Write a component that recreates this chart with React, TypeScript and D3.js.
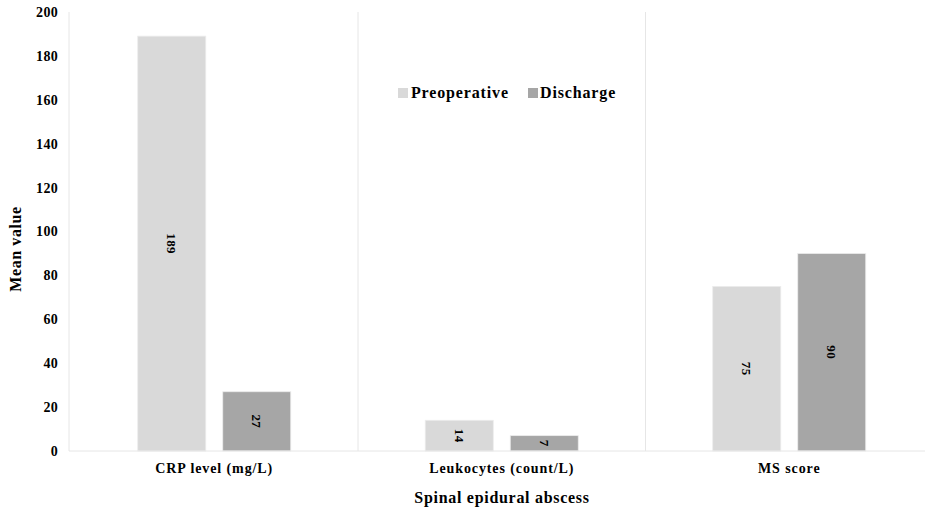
import React from "react";
import * as d3 from "d3";

const categories = ["CRP level (mg/L)", "Leukocytes (count/L)", "MS score"];
const seriesNames = ["Preoperative", "Discharge"];
const preoperative = [189, 14, 75];
const discharge = [27, 7, 90];
const yTicks = [0, 20, 40, 60, 80, 100, 120, 140, 160, 180, 200];

const colors: Record<string, string> = { Preoperative: "#d9d9d9", Discharge: "#a6a6a6" };
const FONT = "'Liberation Serif', 'Times New Roman', serif";

export default function App() {
  const width = 925;
  const height = 514;
  const axisX = 69;
  const left = 70.5;
  const top = 12;
  const bottom = 451;
  const right = 933;

  const x = d3.scaleBand<string>().domain(categories).range([left, right]).padding(0);
  const inner = d3
    .scaleBand<string>()
    .domain(seriesNames)
    .range([x.bandwidth() / 2 - 76.5, x.bandwidth() / 2 + 76.5])
    .paddingInner(0.2)
    .paddingOuter(0);
  const y = d3.scaleLinear().domain([0, 200]).range([bottom, top]);

  const rows = categories.map((c, i) => ({
    category: c,
    values: [
      { series: "Preoperative", value: preoperative[i] },
      { series: "Discharge", value: discharge[i] },
    ],
  }));

  return (
    <svg width={width} height={height} style={{ position: "absolute", left: 0, top: 0, background: "#fff" }}>
      <rect x={0} y={0} width={width} height={height} fill="#fff" />
      {/* category separators */}
      {categories.slice(1).map((c) => (
        <line key={c} x1={x(c)!} x2={x(c)!} y1={top} y2={bottom} stroke="#e6e6e6" strokeWidth={1} />
      ))}
      {/* y axis line */}
      <line x1={axisX} x2={axisX} y1={top} y2={bottom} stroke="#e6e6e6" strokeWidth={1} />
      {/* y ticks */}
      {yTicks.map((t) => (
        <text
          key={t}
          x={58}
          y={y(t)}
          dy="0.35em"
          textAnchor="end"
          fontFamily={FONT}
          fontWeight="bold"
          fontSize={14}
          letterSpacing={0.3}
          fill="#000"
        >
          {t}
        </text>
      ))}
      {/* bars */}
      {rows.map((r) => (
        <g key={r.category} transform={`translate(${x(r.category)},0)`}>
          {r.values.map((v) => {
            const bx = inner(v.series)!;
            const bw = inner.bandwidth();
            const by = y(v.value);
            return (
              <g key={v.series}>
                <rect
                  x={bx}
                  y={by}
                  width={bw}
                  height={bottom - by}
                  fill={colors[v.series]}
                  stroke="#ececec"
                  strokeWidth={0.8}
                />
                <text
                  transform={`translate(${bx + bw / 2},${(by + bottom) / 2}) rotate(90)`}
                  textAnchor="middle"
                  dy="0.35em"
                  fontFamily={FONT}
                  fontWeight="bold"
                  fontSize={13}
                  letterSpacing={0.4}
                  fill="#000"
                >
                  {v.value}
                </text>
              </g>
            );
          })}
        </g>
      ))}
      {/* x axis baseline */}
      <line x1={axisX} x2={width} y1={bottom} y2={bottom} stroke="#e6e6e6" strokeWidth={1} />
      {/* category labels */}
      {categories.map((c) => (
        <text
          key={c}
          x={x(c)! + x.bandwidth() / 2}
          y={473}
          textAnchor="middle"
          fontFamily={FONT}
          fontWeight="bold"
          fontSize={14}
          letterSpacing={0.9}
          fill="#000"
        >
          {c}
        </text>
      ))}
      {/* axis titles */}
      <text
        x={502}
        y={503}
        textAnchor="middle"
        fontFamily={FONT}
        fontWeight="bold"
        fontSize={16}
        letterSpacing={0.7}
        fill="#000"
      >
        Spinal epidural abscess
      </text>
      <text
        transform={`translate(21,249) rotate(-90)`}
        textAnchor="middle"
        fontFamily={FONT}
        fontWeight="bold"
        fontSize={16}
        letterSpacing={0.6}
        fill="#000"
      >
        Mean value
      </text>
      {/* legend */}
      <g>
        <rect x={398} y={88} width={10} height={10} fill={colors.Preoperative} />
        <text x={411} y={98} fontFamily={FONT} fontWeight="bold" fontSize={16} letterSpacing={0.85} fill="#000">
          Preoperative
        </text>
        <rect x={528} y={88} width={10} height={10} fill={colors.Discharge} />
        <text x={540} y={98} fontFamily={FONT} fontWeight="bold" fontSize={16} letterSpacing={0.85} fill="#000">
          Discharge
        </text>
      </g>
    </svg>
  );
}
